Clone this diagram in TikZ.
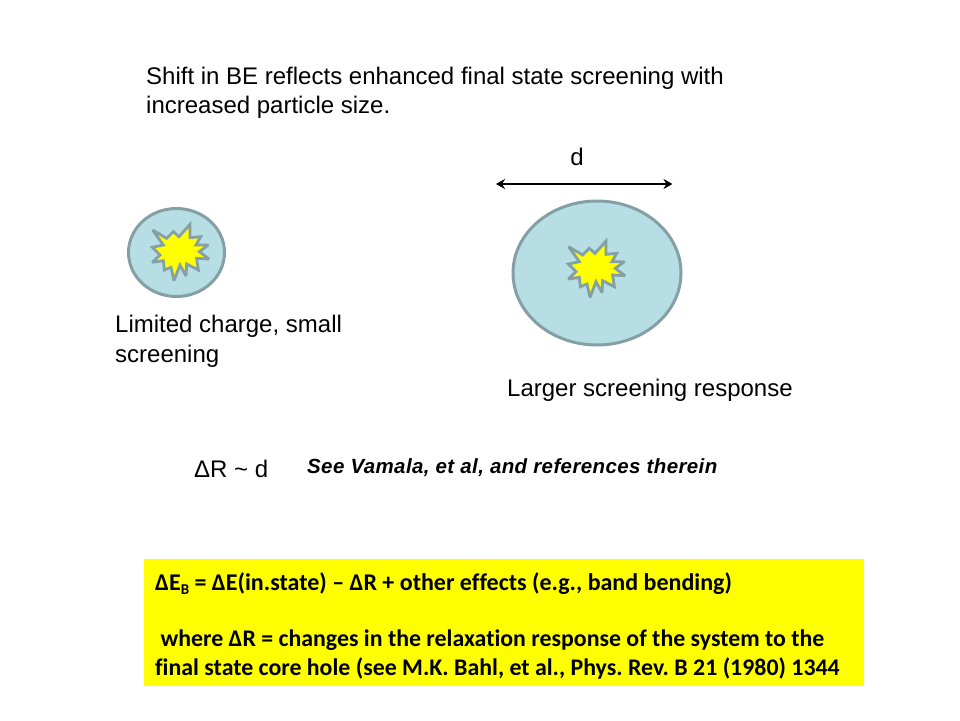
\documentclass[tikz,border=0pt]{standalone}
\usepackage{fontspec}
\setmainfont{Liberation Sans}
\newfontfamily\boxfont{Carlito}[Ligatures={NoCommon,NoRare,TeX},Scale=1]
\newfontfamily\citefont{Liberation Sans}[LetterSpace=1.9]
\definecolor{cellfill}{RGB}{183,222,228}
\definecolor{celledge}{RGB}{133,160,165}
\definecolor{burstfill}{RGB}{255,255,0}
\newcommand{\burstat}[2]{%
  \draw[burst,shift={(#1,#2)}] (128/3,120/3) -- (170/3,145/3) -- (190/3,125/3) -- (207/3,140/3) -- (240/3,103/3) -- (240/3,143/3) -- (272/3,140/3) -- (258/3,165/3) -- (295/3,165/3) -- (268/3,185/3) -- (297/3,207/3) -- (260/3,205/3) -- (265/3,240/3) -- (230/3,222/3) -- (228/3,258/3) -- (210/3,225/3) -- (192/3,272/3) -- (183/3,232/3) -- (163/3,240/3) -- (160/3,212/3) -- (127/3,217/3) -- (150/3,195/3) -- (127/3,172/3) -- (160/3,165/3) -- cycle;}
\tikzset{
  cell/.style={ellipse,draw=celledge,fill=cellfill,line width=3pt,inner sep=0pt,minimum width=#1},
  burst/.style={draw=celledge,fill=burstfill,line width=2.8pt,line join=miter,miter limit=3},
  label/.style={anchor=base west,inner sep=0pt,font=\fontsize{24}{28}\selectfont},
  cite/.style={anchor=base west,inner sep=0pt,font=\citefont\fontsize{20.5}{24}\selectfont\bfseries\itshape},
  boxline/.style={anchor=base west,inner sep=0pt,font=\boxfont\fontsize{#1}{28}\selectfont\bfseries},
  span/.style={<->,>={Stealth[length=9pt,width=10pt]},line width=2.2pt,black},
}
\usetikzlibrary{shapes.geometric,arrows.meta}
\begin{document}
\begin{tikzpicture}[x=1pt,y=-1pt]
\useasboundingbox (0,0) rectangle (960,720);
\node[label] (title1) at (146,84) {Shift in BE reflects enhanced final state screening with};
\node[label] (title2) at (146,113) {increased particle size.};
\node[label,anchor=base] (dlabel) at (577,165) {d};
\coordinate (spanL) at (496,184);
\coordinate (spanR) at (672.5,184);
\draw[span] (spanL) -- (spanR);
\node[cell=96pt,minimum height=88pt] (small) at (176.5,252.5) {};
\node[cell=168pt,minimum height=144pt] (large) at (597,273) {};
\burstat{110}{190}
\burstat{526}{206.7}
\node[label] (lim1) at (115,332) {Limited charge, small};
\node[label] (lim2) at (115,362) {screening};
\node[label] (larger) at (507,396) {Larger screening response};
\node[label] (delta) at (194,477) {ΔR \textasciitilde{} d};
\node[cite] (see) at (307,473.5) {See Vamala, et al, and references therein};
\fill[burstfill] (144,559) rectangle (864,686);
\node[boxline=24] (b1) at (155,590) {ΔE\raisebox{-4pt}{\fontsize{15}{15}\selectfont B} = ΔE(in.state) – ΔR + other effects (e.g., band bending)};
\node[boxline=23.85] (b2) at (155,646) {\ where ΔR = changes in the relaxation response of the system to the};
\node[boxline=23.85] (b3) at (155,675) {final state core hole (see M.K. Bahl, et al., Phys.\ Rev.\ B 21 (1980) 1344};
\end{tikzpicture}
\end{document}
